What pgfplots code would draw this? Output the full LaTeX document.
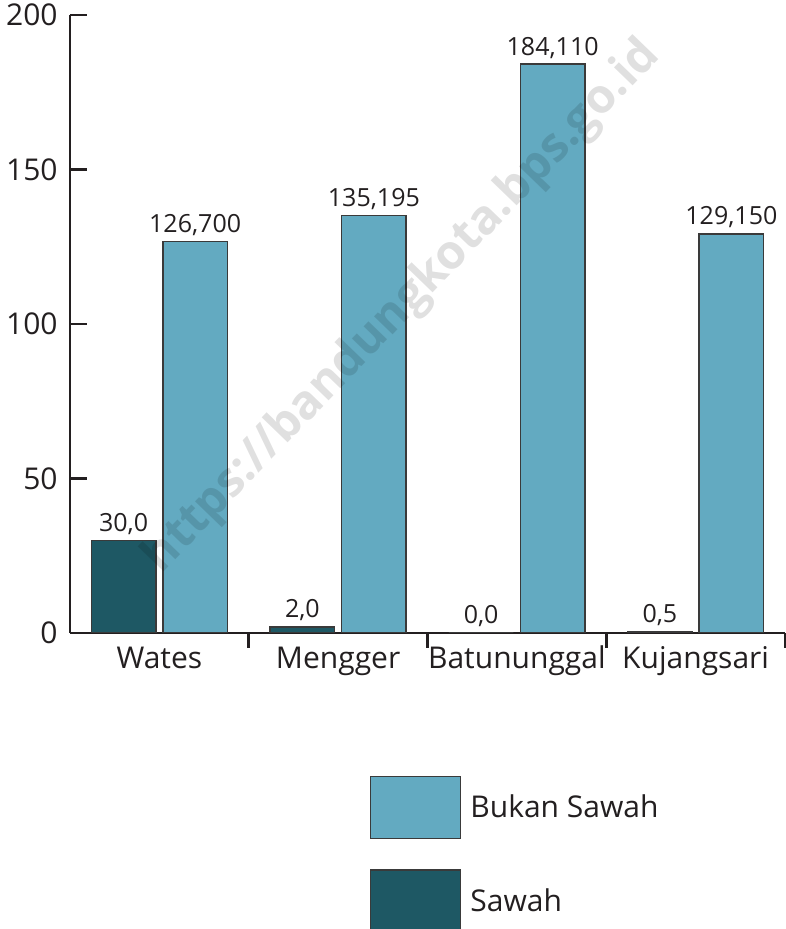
\documentclass[border=0pt]{standalone}
\usepackage{fontspec}
\setmainfont{Open Sans}
\usepackage{pgfplots}
\pgfplotsset{compat=1.18}
\usepackage{pgfplotstable}
\definecolor{lightbar}{HTML}{63AAC1}
\definecolor{darkbar}{HTML}{1E5864}
\definecolor{ink}{HTML}{231F20}
\definecolor{edge}{HTML}{3A3A3A}

\pgfplotstableread{
x y label
0 30.0 30,0
1 2.0 2,0
2 0.0 0,0
3 0.5 0,5
}\sawah
\pgfplotstableread{
x y label
0 126.700 126,700
1 135.195 135,195
2 184.110 184,110
3 129.150 129,150
}\bukan

\begin{document}
\begin{tikzpicture}
\begin{axis}[
  at={(35pt,148pt)}, anchor=south west,
  scale only axis, width=357.5pt, height=309pt,
  xmin=-0.5, xmax=3.5, ymin=0, ymax=200,
  axis x line=bottom, axis y line=left,
  axis line style={-, ink, line width=1.3pt},
  tick align=inside,
  xtick={0,1,2,3},
  xticklabels={Wates,Mengger,Batununggal,Kujangsari},
  minor xtick={0.5,1.5,2.5,3.5},
  major x tick style={draw=none},
  minor x tick style={ink, line width=1.3pt},
  minor tick length=7.5pt,
  ytick={0,50,100,150,200},
  y tick style={ink, line width=1.3pt},
  major tick length=8.5pt,
  /pgf/number format/assume math mode=true,
  tick label style={font=\fontsize{15}{18}\selectfont, text=ink},
  xticklabel style={anchor=base, inner sep=0pt, yshift=-9.5pt},
  yticklabel style={anchor=east, inner sep=0pt, xshift=-6pt},
  ybar=3.5pt, bar width=32.25pt,
  nodes near coords,
  point meta=explicit symbolic,
  every node near coord/.append style={font=\fontsize{12.5}{15}\selectfont, text=ink, anchor=base, inner sep=0pt, yshift=4.5pt},
  legend style={at={(axis description cs:0.4196,-0.2314)}, anchor=north west,
    draw=none, fill=none, inner sep=0pt, outer sep=0pt,
    row sep=15pt, column sep=4.5pt,
    nodes={inner sep=0pt, font=\fontsize{15}{18}\selectfont, text=ink}},
  legend cell align=left,
  reverse legend,
]
\addplot[fill=darkbar, draw=edge, line width=0.7pt,
  legend image code/.code={\draw[fill=darkbar, draw=edge, line width=0.7pt] (0pt,-15.5pt) rectangle (45pt,15.5pt);}]
  table[x=x, y=y, meta=label] {\sawah};
\addlegendentry{Sawah}
\addplot[fill=lightbar, draw=edge, line width=0.7pt,
  legend image code/.code={\draw[fill=lightbar, draw=edge, line width=0.7pt] (0pt,-15.5pt) rectangle (45pt,15.5pt);}]
  table[x=x, y=y, meta=label] {\bukan};
\addlegendentry{Bukan Sawah}
\node[rotate=46, text=black, text opacity=0.12, font=\bfseries\fontsize{23.7}{28}\selectfont] at (axis cs:1.36,105.5) {https://bandungkota.bps.go.id};
\end{axis}
\pgfresetboundingbox
\useasboundingbox (0,0) rectangle (392.5pt,464.5pt);
\end{tikzpicture}
\end{document}
